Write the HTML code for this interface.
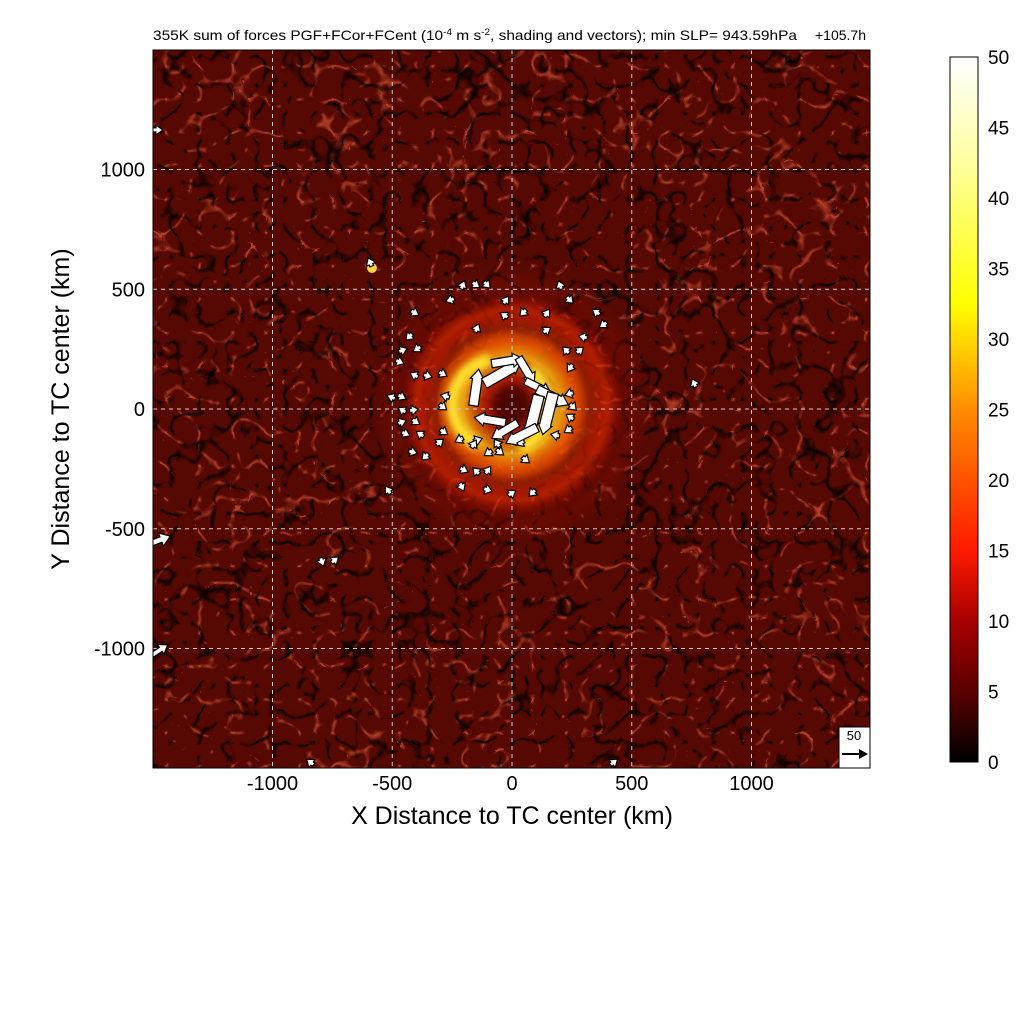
<!DOCTYPE html>
<html><head><meta charset="utf-8"><style>
html,body{margin:0;padding:0;background:#fff}
svg{display:block;font-family:"Liberation Sans",sans-serif}
</style></head><body>
<svg id="c" width="1024" height="1024" viewBox="0 0 1024 1024">
<defs>
<filter id="dark" x="0" y="0" width="100%" height="100%">
<feTurbulence type="turbulence" baseFrequency="0.035" numOctaves="2" seed="4"/>
<feColorMatrix values="0 0 0 0 0  0 0 0 0 0  0 0 0 0 0  -7 0 0 0 1.0"/>
</filter>
<filter id="bright" x="0" y="0" width="100%" height="100%">
<feTurbulence type="turbulence" baseFrequency="0.03" numOctaves="2" seed="11"/>
<feColorMatrix values="0 0 0 0 0.68  0 0 0 0 0.09  0 0 0 0 0.04  -7 0 0 0 0.7"/>
</filter>
<filter id="blur"><feGaussianBlur stdDeviation="4"/></filter>
<radialGradient id="core" cx="512" cy="405" r="140" gradientUnits="userSpaceOnUse">
<stop offset="0" stop-color="#600a03" stop-opacity="0.9"/>
<stop offset="0.2" stop-color="#c02000" stop-opacity="0.8"/>
<stop offset="0.35" stop-color="#ffb010" stop-opacity="0.85"/>
<stop offset="0.45" stop-color="#ff6000" stop-opacity="0.8"/>
<stop offset="0.65" stop-color="#c01500" stop-opacity="0.6"/>
<stop offset="0.85" stop-color="#901000" stop-opacity="0.35"/>
<stop offset="1" stop-color="#801000" stop-opacity="0"/>
</radialGradient>
<linearGradient id="cbar" x1="0" y1="1" x2="0" y2="0">
<stop offset="0" stop-color="#000"/>
<stop offset="0.1" stop-color="#5a0000"/>
<stop offset="0.2" stop-color="#a80000"/>
<stop offset="0.3" stop-color="#ff1a00"/>
<stop offset="0.5" stop-color="#ff8c00"/>
<stop offset="0.65" stop-color="#ffff00"/>
<stop offset="0.85" stop-color="#ffffa0"/>
<stop offset="1" stop-color="#ffffff"/>
</linearGradient>
<clipPath id="pc"><rect x="153" y="50" width="717" height="718"/></clipPath>
</defs>
<text x="153" y="40" font-size="14" textLength="644" lengthAdjust="spacingAndGlyphs">355K sum of forces PGF+FCor+FCent (10<tspan dy="-5" font-size="9">-4</tspan><tspan dy="5"> m s</tspan><tspan dy="-5" font-size="9">-2</tspan><tspan dy="5">, shading and vectors); min SLP= 943.59hPa</tspan></text>
<text x="815" y="40" font-size="14">+105.7h</text>
<g clip-path="url(#pc)">
<rect x="153" y="50" width="717" height="718" fill="#560903"/>
<rect x="153" y="50" width="717" height="718" filter="url(#bright)"/>
<rect x="153" y="50" width="717" height="718" filter="url(#dark)" opacity="0.9"/>
<circle cx="512" cy="405" r="140" fill="url(#core)"/>
<g filter="url(#blur)" fill="none">
<path d="M478,445 A45,45 0 0 1 490,360" stroke="#ffe830" stroke-width="12"/>
<path d="M530,370 A45,45 0 0 1 520,448" stroke="#ffe830" stroke-width="12"/>
<circle cx="512" cy="405" r="78" stroke="#3a0500" stroke-width="5" opacity="0.6"/>
<circle cx="512" cy="405" r="112" stroke="#3a0500" stroke-width="5" opacity="0.5"/>
<circle cx="512" cy="405" r="95" stroke="#ff4000" stroke-width="6" opacity="0.5"/>
</g>
<circle cx="512" cy="405" r="20" fill="#3a0500" opacity="0.7" filter="url(#blur)"/>
<circle cx="372" cy="268" r="5" fill="#ffd040"/>
</g>
<g id="grid"></g>
<g id="arrows" clip-path="url(#pc)"></g>
<rect x="153" y="50" width="717" height="718" fill="none" stroke="#000"/>
<g id="ref">
<rect x="839" y="727" width="31" height="41" fill="#fff" stroke="#000"/>
<text x="854" y="740" font-size="13" text-anchor="middle">50</text>
<line x1="842" y1="754" x2="862" y2="754" stroke="#000" stroke-width="2"/>
<polygon points="868,754 859,749 859,759" fill="#000"/>
</g>
<g id="xt"></g>
<g id="yt"></g>
<text x="512" y="824" font-size="25" text-anchor="middle">X Distance to TC center (km)</text>
<text transform="translate(69,409) rotate(-90)" font-size="25" text-anchor="middle">Y Distance to TC center (km)</text>
<rect x="950" y="57" width="28" height="705" fill="url(#cbar)" stroke="#000"/>
<g id="cb"></g>
</svg>
<script>
const xTicks=[-1000,-500,0,500,1000];
const yTicks=[-1000,-500,0,500,1000];
const cbTicks=[0,5,10,15,20,25,30,35,40,45,50];
const vx=[-205,-150,-104,200,-259,-25,242,-405,-33,46,146,351,-430,-146,146,296,380,-455,-397,225,284,-468,-409,-351,-288,242,238,-505,-459,-280,255,-459,-409,-288,242,234,-459,-401,-443,-384,-284,-413,-363,-301,-221,-142,-63,-159,-100,-50,33,180,58,-200,-150,-100,-209,-100,0,84,-518,-739,-793,-593,760,-1490,-1470,-1470,426,-843,
-150,-40,-20,60,110,170,90,150,-92,-30,40];
const vy=[518,518,518,518,455,455,455,401,392,401,401,405,301,338,330,301,351,246,250,246,246,196,142,138,146,171,63,50,50,54,8,-4,-4,8,-33,-88,-54,-54,-104,-104,-96,-180,-200,-138,-129,-129,-142,-146,-184,-180,-142,-109,-213,-255,-259,-255,-326,-338,-351,-351,-338,-630,-639,614,109,1165,-547,-1006,-1474,-1474,
90,150,200,160,90,50,-30,-20,-46,-90,-110];
const vu=[5,12,10,-5,-14,8,10,14,-12,-10,8,-12,-10,6,12,-14,-12,13,-12,-10,10,14,-12,14,12,-8,-13,-12,12,-14,10,-13,14,10,-12,-12,14,12,13,-12,12,14,-10,10,-12,12,-8,6,-12,10,-12,-14,10,12,-10,8,6,12,12,-10,-8,10,4,-6,-6,30,40,30,12,-10,
10,70,60,30,50,60,-20,-20,-60,-50,-60];
const vv=[12,-8,-10,14,-5,12,-10,-8,8,-10,12,8,-10,14,8,3,-8,5,-8,10,8,-6,6,-4,-6,-12,-4,5,-6,4,-10,8,2,-8,8,-8,6,-8,-6,8,-8,-4,-10,8,-6,4,12,10,-8,-8,-6,3,-8,-6,10,12,-12,-4,8,-10,12,8,-12,14,14,0,15,20,10,8,
70,40,10,-50,-25,-30,-80,-80,10,-30,-30];
const NS='http://www.w3.org/2000/svg';
const X=k=>512+k*0.2395, Y=k=>409-k*0.2395, S=0.52;
const CB=v=>762-v*(705/50);
function mk(t,a,p){const e=document.createElementNS(NS,t);for(const k in a)e.setAttribute(k,a[k]);p.appendChild(e);return e;}
const grid=document.getElementById('grid'),xt=document.getElementById('xt'),yt=document.getElementById('yt');
xTicks.forEach(v=>{
 const l=mk('line',{x1:X(v),x2:X(v),y1:50,y2:768,stroke:'#ccc','stroke-dasharray':'4,4','stroke-width':1},grid);
 
 
 const t=mk('text',{x:X(v),y:790,'font-size':20,'text-anchor':'middle'},xt);t.textContent=v;
 
 
});
yTicks.forEach(v=>{
 const l=mk('line',{x1:153,x2:870,y1:Y(v),y2:Y(v),stroke:'#ccc','stroke-dasharray':'4,4','stroke-width':1},grid);
 
 
 const t=mk('text',{x:145,y:Y(v)+7,'font-size':20,'text-anchor':'end'},yt);t.textContent=v;
 
 
});
const cb=document.getElementById('cb');
cbTicks.forEach(v=>{
 const t=mk('text',{x:988,y:CB(v)+7,'font-size':19},cb);t.textContent=v;
 
 
});
const ar=document.getElementById('arrows');
for(let i=0;i<vx.length;i++){
 const u=vu[i],v=vv[i];const L=Math.max(9,Math.hypot(u,v)*S);const ang=Math.atan2(-v,u)*180/Math.PI;
 const h=Math.min(10,Math.max(7,L*0.45)),w=Math.max(5,h*0.7),sw=Math.max(2,L*0.13);
 const x0=-L/2,x1=L/2;
 const pts=[[x0,-sw],[x1-h,-sw],[x1-h,-w],[x1,0],[x1-h,w],[x1-h,sw],[x0,sw]].map(p=>p.join(',')).join(' ');
 const p=mk('polygon',{points:pts,fill:'#fff',stroke:'#000','stroke-width':1.2,transform:`translate(${X(vx[i])},${Y(vy[i])}) rotate(${ang})`},ar);
 
 
}
</script>
</body></html>
